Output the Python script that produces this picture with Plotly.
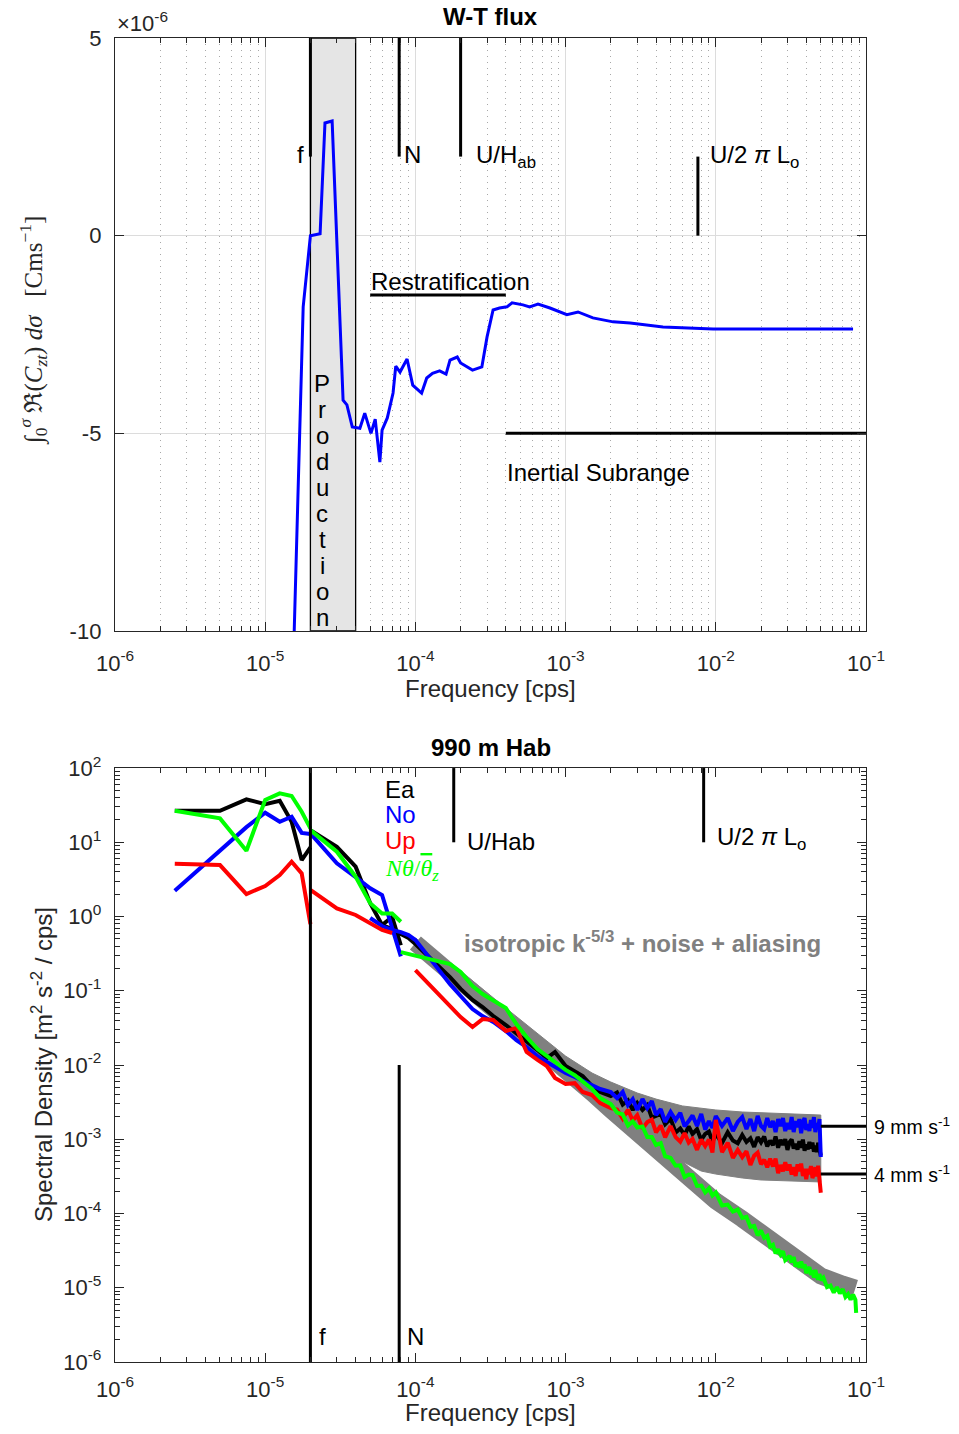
import math
import plotly.graph_objects as go

# ---------------- top panel: cumulative W-T co-spectrum (x 1e-6 C m/s) ----------------
FLUX_FREQ = [1.56e-5, 1.79e-5, 2.0e-5, 2.32e-5, 2.5e-5, 2.79e-5, 3.3e-5, 3.5e-5, 3.8e-5, 4.27e-5,
             4.6e-5, 5.06e-5, 5.4e-5, 5.8e-5, 6.0e-5, 6.5e-5, 7.1e-5, 7.4e-5, 7.9e-5, 8.8e-5,
             9.6e-5, 1.1e-4, 1.19e-4, 1.3e-4, 1.45e-4, 1.6e-4, 1.7e-4, 1.9e-4, 2.0e-4, 2.4e-4,
             2.77e-4, 3.0e-4, 3.29e-4, 3.63e-4, 4.07e-4, 4.4e-4, 5.2e-4, 5.76e-4, 6.55e-4, 7.87e-4,
             1.02e-3, 1.21e-3, 1.52e-3, 2.07e-3, 2.69e-3, 4.45e-3, 9.6e-3, 8.2e-2]
FLUX_CUM = [-10.0, -1.80, 0.0, 0.05, 2.85, 2.90, -4.16, -4.28, -4.84, -4.87,
            -4.49, -5.00, -4.64, -5.73, -4.92, -4.61, -3.98, -3.30, -3.45, -3.12,
            -3.78, -3.98, -3.60, -3.48, -3.42, -3.50, -3.15, -3.07, -3.22, -3.40,
            -3.32, -2.56, -1.88, -1.83, -1.80, -1.70, -1.75, -1.80, -1.73, -1.83,
            -2.00, -1.93, -2.08, -2.18, -2.21, -2.31, -2.36, -2.36]

F_COR = 2e-5
F_PROD_HI = 4e-5
N_FREQ = 7.8e-5
UHAB_TOP = 2.0e-4
ULO_TOP = 7.6e-3
RESTRAT_RANGE = [5e-5, 4e-4]
RESTRAT_LEVEL = -1.5
INERTIAL_RANGE = [4e-4, 1e-1]
INERTIAL_LEVEL = -5

# ---------------- bottom panel: velocity / temperature spectra ----------------
FREQ_LOW = [2.5e-6, 5e-6, 7.5e-6, 1e-5, 1.25e-5, 1.5e-5, 1.75e-5, 2e-5]
FREQ_MID = [2e-5, 3e-5, 4e-5, 5e-5, 6e-5, 7e-5, 8e-5]
FREQ_HIGH = [5e-5, 6e-5, 7e-5, 8e-5, 9e-5,
             1e-4, 1.2e-4, 1.4e-4, 1.7e-4, 2e-4, 2.4e-4, 2.8e-4, 3.3e-4, 4e-4, 4.7e-4,
             5.5e-4, 6.5e-4, 7.5e-4, 8.5e-4, 1e-3, 1.15e-3, 1.3e-3, 1.5e-3, 1.7e-3, 2e-3,
             2.2e-3, 2.4e-3, 2.6e-3, 2.8e-3, 3.0e-3, 3.25e-3, 3.5e-3, 3.75e-3, 4.0e-3, 4.3e-3,
             4.6e-3, 5.0e-3, 5.4e-3, 5.8e-3, 6.2e-3, 6.6e-3, 7.0e-3, 7.5e-3, 8.0e-3, 8.5e-3,
             9.0e-3, 9.5e-3, 1.0e-2, 1.1e-2, 1.2e-2, 1.3e-2, 1.4e-2, 1.5e-2, 1.6e-2, 1.7e-2,
             1.8e-2, 1.9e-2, 2.0e-2, 2.1e-2, 2.2e-2, 2.3e-2, 2.4e-2, 2.5e-2, 2.6e-2, 2.7e-2,
             2.8e-2, 2.9e-2, 3.0e-2, 3.1e-2, 3.2e-2, 3.3e-2, 3.4e-2, 3.5e-2, 3.6e-2, 3.7e-2,
             3.8e-2, 3.9e-2, 4.0e-2, 4.1e-2, 4.2e-2, 4.3e-2, 4.4e-2, 4.5e-2, 4.6e-2, 4.7e-2,
             4.8e-2, 4.9e-2, 5.0e-2]
FREQ_GREEN_TAIL = [5.2e-2, 5.5e-2, 5.8e-2, 6.1e-2, 6.4e-2, 6.7e-2, 7.0e-2, 7.3e-2, 7.6e-2,
                   7.9e-2, 8.2e-2, 8.5e-2, 8.6e-2]

EA_LOW = [26.6, 26.6, 37.9, 32.7, 36.3, 18.9, 5.77, 8.55]
NO_LOW = [2.23, 7.79, 16.0, 25.0, 18.9, 22.1, 13.4, 12.9]
UP_LOW = [5.14, 4.94, 2.01, 2.58, 3.62, 5.47, 3.82, 0.79]
T_LOW = [26.6, 21.0, 7.7, 37.1, 45.6, 42.0, 25.8, 15.4]

EA_MID = [14.6, 8.7, 4.69, 1.51, 0.77, 0.99, 0.41]
NO_MID = [13.2, 5.2, 3.4, 2.4, 1.95, 0.69, 0.29]
UP_MID = [2.28, 1.29, 1.05, 0.81, 0.66, 0.60, None]
T_MID = [14.6, 7.46, 3.44, 1.51, 1.10, 1.10, 0.85]

EA_HIGH = [None, 0.768, 0.679, 0.581, 0.513,
           0.426, 0.303, 0.229, 0.153, 0.106, 0.0751, 0.0604, 0.0457, 0.0346, 0.0270,
           0.0211, 0.0159, 0.0124, 0.0150, 9.7e-3, 8.3e-3, 7.1e-3, 5.2e-3, 4.33e-3, 3.82e-3,
           4.26e-3, 2.94e-3, 3.35e-3, 2.48e-3, 3.08e-3, 2.48e-3, 2.89e-3, 1.96e-3, 2.09e-3, 2.19e-3,
           1.60e-3, 1.90e-3, 1.23e-3, 1.40e-3, 1.14e-3, 1.49e-3, 1.18e-3, 1.37e-3, 9.8e-4, 1.18e-3,
           1.27e-3, 9.3e-4, 1.17e-3, 8.9e-4, 1.24e-3, 9.6e-4, 8.85e-4, 1.14e-3, 9.2e-4, 1.03e-3,
           7.9e-4, 1.07e-3, 9.1e-4, 1.09e-3, 8.0e-4, 9.6e-4, 8.3e-4, 1.09e-3, 7.7e-4, 9.8e-4,
           8.4e-4, 1.0e-3, 7.2e-4, 9.15e-4, 9.95e-4, 7.5e-4, 8.7e-4, 7.25e-4, 9.4e-4, 7.7e-4,
           9.9e-4, 7.0e-4, 8.5e-4, 7.3e-4, 9.2e-4, 7.5e-4, 9.0e-4, 6.8e-4, 8.2e-4, 6.7e-4,
           9.0e-4, 7.6e-4, 6.0e-4]
NO_HIGH = [0.955, 0.745, 0.658, 0.618, 0.563,
           0.483, 0.303, 0.203, 0.123, 0.085, 0.0568, 0.0457, 0.038, 0.0287, 0.0217,
           0.0175, 0.0132, 0.0110, 9.4e-3, 7.8e-3, 6.9e-3, 6.1e-3, 5.4e-3, 4.75e-3, 4.33e-3,
           3.59e-3, 4.33e-3, 2.89e-3, 3.48e-3, 2.48e-3, 3.48e-3, 2.63e-3, 3.27e-3, 2.12e-3, 2.55e-3,
           1.71e-3, 2.33e-3, 1.82e-3, 2.26e-3, 1.49e-3, 1.76e-3, 2.09e-3, 1.51e-3, 2.19e-3, 1.35e-3,
           1.76e-3, 1.42e-3, 2.06e-3, 1.51e-3, 1.93e-3, 1.29e-3, 1.71e-3, 1.99e-3, 1.37e-3, 1.87e-3,
           1.29e-3, 2.06e-3, 1.51e-3, 1.37e-3, 1.93e-3, 1.46e-3, 1.76e-3, 1.25e-3, 1.87e-3, 1.51e-3,
           1.93e-3, 1.29e-3, 1.65e-3, 1.37e-3, 1.99e-3, 1.25e-3, 1.76e-3, 1.46e-3, 1.87e-3, 1.21e-3,
           1.71e-3, 1.93e-3, 1.33e-3, 1.60e-3, 1.29e-3, 1.82e-3, 1.42e-3, 1.99e-3, 1.25e-3, 1.65e-3,
           1.37e-3, 1.87e-3, 5.76e-4]
UP_HIGH = [None, None, None, None, None,
           0.190, 0.131, 0.0933, 0.0623, 0.0443, 0.0325, 0.0416, 0.0404, 0.0287, 0.0315,
           0.0150, 0.0117, 9.7e-3, 6.7e-3, 5.55e-3, 5.7e-3, 4.33e-3, 3.95e-3, 3.08e-3, 2.63e-3,
           2.51e-3, 1.90e-3, 2.50e-3, 1.79e-3, 2.11e-3, 1.40e-3, 1.70e-3, 1.84e-3, 1.24e-3, 1.53e-3,
           1.06e-3, 1.50e-3, 1.07e-3, 9.3e-4, 1.21e-3, 9.0e-4, 1.01e-3, 7.2e-4, 9.9e-4, 8.1e-4,
           9.9e-4, 6.65e-4, 1.82e-3, 6.7e-4, 9.0e-4, 5.6e-4, 7.2e-4, 5.75e-4, 6.9e-4, 4.5e-4,
           6.0e-4, 6.6e-4, 4.6e-4, 5.3e-4, 4.2e-4, 5.5e-4, 4.3e-4, 5.5e-4, 3.5e-4, 4.5e-4,
           3.7e-4, 4.9e-4, 3.8e-4, 4.6e-4, 3.35e-4, 4.2e-4, 3.2e-4, 4.6e-4, 3.7e-4, 4.7e-4,
           3.2e-4, 4.0e-4, 2.9e-4, 4.0e-4, 3.4e-4, 4.35e-4, 3.0e-4, 3.5e-4, 4.2e-4, 3.15e-4,
           4.4e-4, 2.9e-4, 1.9e-4]
T_HIGH = [None, None, None, 0.332, 0.313,
          0.294, 0.268, 0.252, 0.229, 0.179, 0.116, 0.0904, 0.0728, 0.0586, 0.0356,
          0.0238, 0.0164, 0.0132, 0.0106, 8.6e-3, 7.3e-3, 5.9e-3, 4.75e-3, 3.59e-3, 2.98e-3,
          2.29e-3, 2.16e-3, 1.53e-3, 1.74e-3, 1.44e-3, 1.49e-3, 1.07e-3, 1.07e-3, 8.4e-4, 8.9e-4,
          5.9e-4, 5.6e-4, 4.4e-4, 4.45e-4, 3.1e-4, 3.35e-4, 3.3e-4, 2.35e-4, 2.38e-4, 1.92e-4,
          2.17e-4, 1.75e-4, 1.92e-4, 1.28e-4, 1.32e-4, 1.06e-4, 1.13e-4, 8.7e-5, 9.0e-5, 6.6e-5,
          6.8e-5, 5.1e-5, 5.9e-5, 4.7e-5, 5.0e-5, 3.6e-5, 3.8e-5, 2.9e-5, 3.3e-5, 2.8e-5,
          3.1e-5, 2.36e-5, 2.5e-5, 2.7e-5, 2.2e-5, 2.6e-5, 1.93e-5, 2.2e-5, 1.87e-5, 2.26e-5,
          1.84e-5, 2.06e-5, 1.58e-5, 1.79e-5, 1.90e-5, 1.49e-5, 1.71e-5, 1.37e-5, 1.74e-5, 1.42e-5,
          1.29e-5, 1.53e-5, 1.27e-5]
T_TAIL = [1.37e-5, 1.02e-5, 1.07e-5, 8.6e-6, 1.02e-5, 8.4e-6, 9.6e-6, 7.5e-6, 8.2e-6, 6.9e-6,
          8.1e-6, 6.9e-6, 4.6e-6]

# model envelopes: isotropic k^-5/3 + noise + aliasing
FREQ_MODEL = [1e-4, 2e-4, 4e-4, 7e-4, 1e-3, 1.5e-3, 2e-3, 3e-3, 4e-3, 6e-3, 8e-3, 1e-2,
              1.5e-2, 2e-2, 3e-2, 5e-2]
MODEL_NOISE9 = [0.513, 0.1845, 0.0586, 0.0238, 0.0132, 7.8e-3, 5.9e-3, 4.2e-3, 3.48e-3, 2.81e-3,
                2.6e-3, 2.48e-3, 2.33e-3, 2.29e-3, 2.22e-3, 2.12e-3]
MODEL_NOISE4 = [0.354, 0.1124, 0.0346, 0.0132, 7.33e-3, 3.77e-3, 2.4e-3, 1.29e-3, 8.63e-4, 5.01e-4,
                3.73e-4, 3.4e-4, 3.01e-4, 2.83e-4, 2.74e-4, 2.66e-4]
FREQ_K53 = FREQ_MODEL + [7e-2, 8.5e-2]
MODEL_K53 = [0.44, 0.1396, 0.043, 0.0159, 8.57e-3, 4.2e-3, 2.48e-3, 1.18e-3, 6.95e-4, 3.4e-4,
             2.01e-4, 1.47e-4, 8.43e-5, 5.46e-5, 3.03e-5, 1.44e-5, 1.12e-5, 9.9e-6]

UHAB_BOT = 1.8e-4
ULO_BOT = 8.3e-3
NOISE_9MM = 1.5e-3
NOISE_4MM = 3.4e-4

SANS = "Liberation Sans, Arial, Helvetica, sans-serif"
SERIF = "Liberation Serif, Times New Roman, serif"
AX = "#262626"
TXT = 24


def join(*parts):
    xs, ys = [], []
    for fx, fy in parts:
        if xs:
            xs.append(None)
            ys.append(None)
        xs.extend(fx)
        ys.extend(fy)
    return xs, ys


def line(fig, x, y, color, width, axes=("x", "y")):
    fig.add_trace(go.Scatter(x=x, y=y, mode="lines", line=dict(color=color, width=width),
                             xaxis=axes[0], yaxis=axes[1], hoverinfo="skip", showlegend=False))


fig = go.Figure()

# ---- top panel ----
fig.add_trace(go.Scatter(x=[F_COR, F_PROD_HI, F_PROD_HI, F_COR, F_COR], y=[-10, -10, 5, 5, -10],
                         fill="toself", fillcolor="#e5e5e5", mode="lines",
                         line=dict(color="black", width=1.3), hoverinfo="skip", showlegend=False))
for xv, y0, y1 in [(F_COR, 2, 5), (N_FREQ, 2, 5), (UHAB_TOP, 2, 5), (ULO_TOP, 0, 2)]:
    line(fig, [xv, xv], [y0, y1], "black", 3)
line(fig, RESTRAT_RANGE, [RESTRAT_LEVEL] * 2, "black", 3)
line(fig, INERTIAL_RANGE, [INERTIAL_LEVEL] * 2, "black", 3)
line(fig, FLUX_FREQ, FLUX_CUM, "#0000ff", 3)

# ---- bottom panel ----
B = ("x2", "y2")
fig.add_trace(go.Scatter(x=FREQ_MODEL + FREQ_MODEL[::-1], y=MODEL_NOISE9 + MODEL_NOISE4[::-1],
                         fill="toself", fillcolor="#808080", mode="lines",
                         line=dict(color="#808080", width=1), xaxis="x2", yaxis="y2",
                         hoverinfo="skip", showlegend=False))
line(fig, FREQ_K53, MODEL_K53, "#808080", 17, B)

series = [
    (EA_LOW, EA_MID, EA_HIGH, "black"),
    (NO_LOW, NO_MID, NO_HIGH, "#0000ff"),
    (UP_LOW, UP_MID, UP_HIGH, "#ff0000"),
    (T_LOW, T_MID, T_HIGH + T_TAIL, "#00ff00"),
]
for lo, mid, hi, col in series:
    fh = FREQ_HIGH + (FREQ_GREEN_TAIL if len(hi) > len(FREQ_HIGH) else [])
    xs, ys = join((FREQ_LOW, lo), (FREQ_MID, mid), (fh, hi))
    line(fig, xs, ys, col, 4, B)

line(fig, [F_COR, F_COR], [1e-6, 1e2], "black", 3, B)
line(fig, [N_FREQ, N_FREQ], [1e-6, 1e-2], "black", 3, B)
line(fig, [UHAB_BOT, UHAB_BOT], [1e1, 1e2], "black", 3, B)
line(fig, [ULO_BOT, ULO_BOT], [1e1, 1e2], "black", 3, B)
line(fig, [5e-2, 1e-1], [NOISE_9MM] * 2, "black", 3, B)
line(fig, [5e-2, 1e-1], [NOISE_4MM] * 2, "black", 3, B)

# ---- axes ----
decades = [10.0 ** e for e in range(-6, 0)]
dec_text = [f"10<sup>{e}</sup>" for e in range(-6, 0)]
minor_x = [m * 10.0 ** e for e in range(-6, -1) for m in range(2, 10)]
tickfont = dict(family=SANS, size=22, color=AX)

xbase = dict(type="log", range=[-6, -1], tickvals=decades, ticktext=dec_text, ticks="inside",
             ticklen=9, tickwidth=1.3, tickcolor=AX, showline=True, linecolor=AX, linewidth=1.4,
             mirror="allticks", tickfont=tickfont, zeroline=False)

# page body adds an 8 px offset, so the figure is 16 px smaller than the window
fig.update_layout(
    width=943, height=1418,
    margin=dict(l=107, r=85, t=30, b=64),
    plot_bgcolor="white", paper_bgcolor="white", showlegend=False,
    xaxis=dict(**xbase, anchor="y", domain=[0, 1], showgrid=True, gridcolor="#dcdcdc", gridwidth=1.2,
               ticklabelstandoff=12,
               minor=dict(tickvals=minor_x, ticks="inside", ticklen=5, tickcolor=AX,
                          showgrid=True, gridcolor="#a8a8a8", griddash="1px,5px", gridwidth=1)),
    yaxis=dict(range=[-10, 5], domain=[0.5521, 1], anchor="x", tickvals=[-10, -5, 0, 5],
               ticktext=["-10", "-5", "0", "5"], ticks="inside", ticklen=9, tickwidth=1.3,
               tickcolor=AX, showline=True, linecolor=AX, linewidth=1.4, mirror="allticks",
               tickfont=tickfont, showgrid=True, gridcolor="#dcdcdc", gridwidth=1.2,
               zeroline=False, ticklabelstandoff=8),
    xaxis2=dict(**xbase, anchor="y2", domain=[0, 1], showgrid=False, ticklabelstandoff=7,
                minor=dict(tickvals=minor_x, ticks="inside", ticklen=5, tickcolor=AX, showgrid=False)),
    yaxis2=dict(type="log", range=[-6, 2], domain=[0, 0.4486], anchor="x2",
                tickvals=[10.0 ** e for e in range(-6, 3)],
                ticktext=[f"10<sup>{e}</sup>" for e in range(-6, 3)],
                ticks="inside", ticklen=9, tickwidth=1.3, tickcolor=AX, showline=True,
                linecolor=AX, linewidth=1.4, mirror="allticks", tickfont=tickfont,
                showgrid=False, zeroline=False, ticklabelstandoff=8,
                minor=dict(tickvals=[m * 10.0 ** e for e in range(-6, 2) for m in range(2, 10)],
                           ticks="inside", ticklen=5, tickcolor=AX, showgrid=False)),
)


def note(text, x, y, xref, yref, size=TXT, color="black", family=SANS, xanchor="left",
         yanchor="middle", **kw):
    fig.add_annotation(text=text, x=x, y=y, xref=xref, yref=yref, showarrow=False,
                       font=dict(family=family, size=size, color=color),
                       xanchor=xanchor, yanchor=yanchor, **kw)


lg = math.log10

# top panel labels
note("<b>W-T flux</b>", 0.5, 1.0159, "paper", "paper", xanchor="center")
note("×10<sup>-6</sup>", 0.0, 1.012, "paper", "paper", size=22, color=AX)
note("Frequency [cps]", 0.5, 0.509, "paper", "paper", xanchor="center", color=AX)
note("∫<sub>0</sub><sup><i>σ</i></sup> ℜ(<i>C</i><sub><i>zt</i></sub>) <i>dσ</i>   [Cms<sup>−1</sup>]",
     -0.109, 0.7795, "paper", "paper", size=25, family=SERIF, color=AX, xanchor="center",
     textangle=-90)
note("f", lg(F_COR), 2.05, "x", "y", xanchor="right", xshift=-4)
note("N", lg(N_FREQ), 2.05, "x", "y", xshift=3)
note("U/H<sub>ab</sub>", lg(UHAB_TOP), 2.0, "x", "y", xshift=13)
note("U/2 <i>π</i> L<sub>o</sub>", lg(ULO_TOP), 2.0, "x", "y", xshift=10)
note("Restratification", lg(RESTRAT_RANGE[0]), -1.17, "x", "y", xshift=-1)
note("Inertial Subrange", lg(INERTIAL_RANGE[0]), -5.98, "x", "y", xshift=-1)
for i, ch in enumerate("Production"):
    note(ch, lg(2.4e-5), -3.73 - 0.658 * i, "x", "y", xanchor="center")

# bottom panel labels
note("<b>990 m Hab</b>", 0.5, 0.4645, "paper", "paper", xanchor="center")
note("Frequency [cps]", 0.5, -0.0385, "paper", "paper", xanchor="center", color=AX)
note("Spectral Density [m<sup>2</sup> s<sup>-2</sup> / cps]", -0.0972, 0.2243, "paper", "paper",
     color=AX, xanchor="center", textangle=-90)
note("Ea", -4.216, 1.717, "x2", "y2")
note("No", -4.216, 1.380, "x2", "y2", color="#0000ff")
note("Up", -4.216, 1.030, "x2", "y2", color="#ff0000")
note("<i>Nθ</i>/<span style='text-decoration:overline'><i>θ</i></span><sub><i>z</i></sub>",
     -4.216, 0.626, "x2", "y2", color="#00ff00", family=SERIF)
note("U/Hab", lg(UHAB_BOT), 1.017, "x2", "y2", xshift=11)
note("U/2 <i>π</i> L<sub>o</sub>", lg(ULO_BOT), 1.05, "x2", "y2", xshift=11)
note("<b>isotropic k<sup>-5/3</sup> + noise + aliasing</b>", -3.690, -0.343, "x2", "y2",
     color="#808080")
note("f", lg(F_COR), -5.663, "x2", "y2", xshift=7)
note("N", lg(N_FREQ), -5.663, "x2", "y2", xshift=6)
note("9 mm s<sup>-1</sup>", 1.008, lg(NOISE_9MM), "paper", "y2", size=19.5)
note("4 mm s<sup>-1</sup>", 1.008, lg(NOISE_4MM), "paper", "y2", size=19.5)

fig.write_html("out.html")
